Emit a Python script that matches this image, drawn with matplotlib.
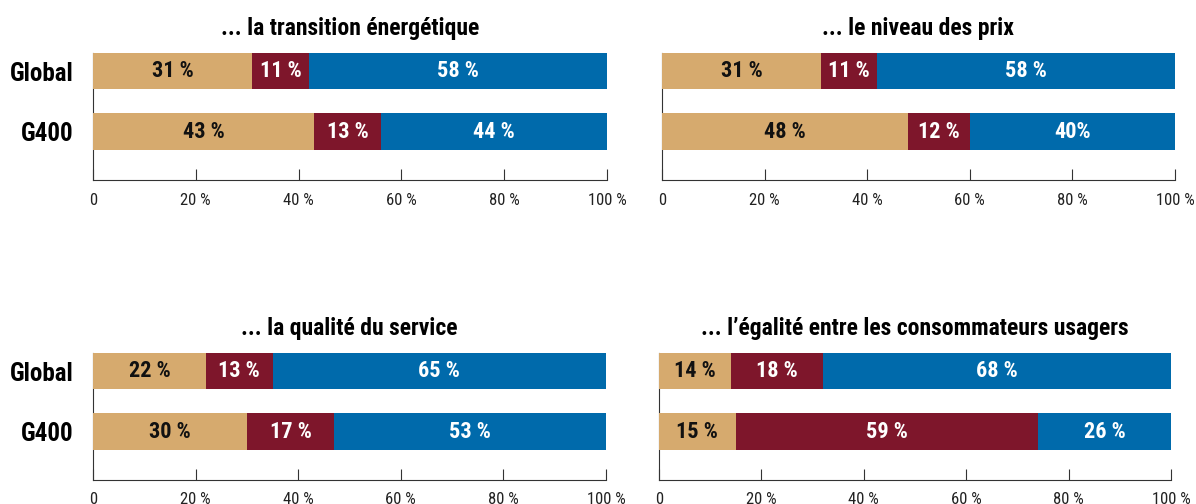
import matplotlib.pyplot as plt
import numpy as np

plt.rcParams['font.family'] = ['Roboto Condensed', 'Liberation Sans Narrow', 'DejaVu Sans']

titles = ["... la transition énergétique", "... le niveau des prix",
          "... la qualité du service", "... l’égalité entre les consommateurs usagers"]
groups = ["Global", "G400"]

# [tan, red, blue] per group, per panel
vals_tan = [[31, 43], [31, 48], [22, 30], [14, 15]]
vals_red = [[11, 13], [11, 12], [13, 17], [18, 59]]
vals_blue = [[58, 44], [58, 40], [65, 53], [68, 26]]

lbl_tan = [["31 %", "43 %"], ["31 %", "48 %"], ["22 %", "30 %"], ["14 %", "15 %"]]
lbl_red = [["11 %", "13 %"], ["11 %", "12 %"], ["13 %", "17 %"], ["18 %", "59 %"]]
lbl_blue = [["58 %", "44 %"], ["58 %", "40%"], ["65 %", "53 %"], ["68 %", "26 %"]]

xticks = [0, 20, 40, 60, 80, 100]
xticklabels = ["0", "20 %", "40 %", "60 %", "80 %", "100 %"]

colors = ["#d6aa6e", "#7e162b", "#006aab"]
txt_colors = ["#111111", "white", "white"]

W, H = 1196, 504
fig = plt.figure(figsize=(W / 100, H / 100), dpi=100)

# pixel boxes: left, right, top, bottom
boxes = [(93, 607, 53, 180), (662, 1175, 53, 180),
         (93, 606, 353, 480), (659, 1171, 353, 480)]

for i, (l, r, t, b) in enumerate(boxes):
    ax = fig.add_axes([l / W, 1 - b / H, (r - l) / W, (b - t) / H])
    y = np.array([1, 0])
    left = np.zeros(2)
    series = [vals_tan[i], vals_red[i], vals_blue[i]]
    labels = [lbl_tan[i], lbl_red[i], lbl_blue[i]]
    for s, lab, c, tc in zip(series, labels, colors, txt_colors):
        s = np.array(s)
        ax.barh(y, s, left=left, height=0.6, color=c, zorder=3)
        for j in range(2):
            ax.text(left[j] + s[j] / 2, y[j], lab[j], ha='center', va='center',
                    color=tc, fontsize=16, fontweight='bold', zorder=4)
        left = left + s
    ax.set_xlim(0, 100)
    ax.set_ylim(-0.8, 1.3)
    ax.spines['top'].set_visible(False)
    ax.spines['right'].set_visible(False)
    ax.spines['left'].set_color('#333333')
    ax.spines['bottom'].set_color('#333333')
    ax.set_xticks(xticks)
    ax.set_xticklabels(xticklabels)
    ax.tick_params(axis='x', direction='in', length=8, pad=9, labelsize=12,
                   color='#333333', labelcolor='#222222')
    ax.set_yticks(y)
    if i % 2 == 0:
        ax.set_yticklabels(groups, fontsize=18, fontweight='bold')
    else:
        ax.set_yticklabels([])
    ax.tick_params(axis='y', length=0, pad=14)
    ax.set_title(titles[i], fontsize=17, fontweight='bold', pad=13)

fig.savefig("out.png", dpi=100)
